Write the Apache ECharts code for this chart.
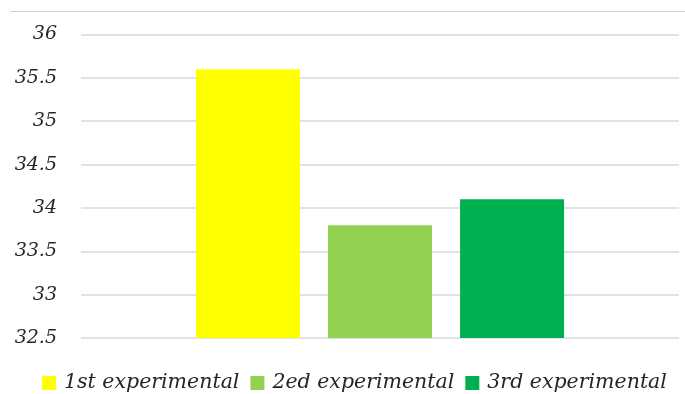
<!DOCTYPE html>
<html>
<head>
<meta charset="utf-8">
<script src="https://cdn.jsdelivr.net/npm/echarts@6/dist/echarts.min.js"></script>
<style>
  html, body { margin: 0; padding: 0; background: #fff; }
  #chart { width: 685px; height: 394px; }
</style>
</head>
<body>
<div id="chart"></div>
<script>
// Single category, one bar per experimental run
const categories = ['result'];
const seriesNames = ['1st experimental', '2ed experimental', '3rd experimental'];
const seriesValues = [35.6, 33.8, 34.1];
const seriesColors = ['#FFFF00', '#92D050', '#00B050'];
const yMin = 32.5;
const yMax = 36;
const yStep = 0.5;

const labelFont = '"DejaVu Serif", serif';

const chart = echarts.init(document.getElementById('chart'), null, { renderer: 'canvas' });

const series = seriesNames.map((name, i) => ({
  name: name,
  type: 'bar',
  data: [seriesValues[i]],
  barWidth: 104,
  barGap: '27%',
  itemStyle: { color: seriesColors[i] }
}));

chart.setOption({
  animation: false,
  backgroundColor: '#ffffff',
  grid: { left: 81, right: 6, top: 34.5, bottom: 56, containLabel: false },
  legend: {
    top: 368,
    left: 37,
    itemWidth: 14,
    itemHeight: 14,
    itemGap: 11,
    icon: 'rect',
    data: seriesNames,
    textStyle: {
      fontFamily: labelFont,
      fontStyle: 'italic',
      fontSize: 20.5,
      color: '#262626',
      padding: [0, 0, 0, 3]
    }
  },
  xAxis: {
    type: 'category',
    data: categories,
    axisLine: { show: false },
    axisTick: { show: false },
    axisLabel: { show: false }
  },
  yAxis: {
    type: 'value',
    min: yMin,
    max: yMax,
    interval: yStep,
    axisLine: { show: false },
    axisTick: { show: false },
    splitLine: { lineStyle: { color: '#d9d9d9', width: 1.5 } },
    axisLabel: {
      margin: 24,
      fontFamily: labelFont,
      fontStyle: 'italic',
      fontSize: 19,
      color: '#262626'
    }
  },
  graphic: [{
    type: 'line',
    shape: { x1: 10, y1: 11.5, x2: 685, y2: 11.5 },
    style: { stroke: '#d0d0d0', lineWidth: 1 }
  }],
  series: series
});
</script>
</body>
</html>
